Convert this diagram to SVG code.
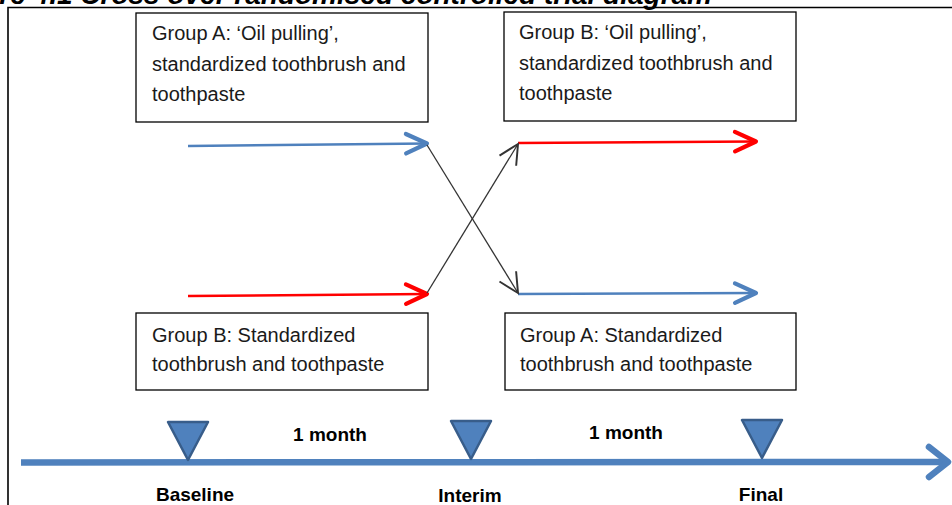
<svg xmlns="http://www.w3.org/2000/svg" width="952" height="505" viewBox="0 0 952 505">
<style>
.box{fill:#fff;stroke:#000;stroke-width:1.3}
.t{font-family:"Liberation Sans",Arial,sans-serif;font-size:20px;fill:#1a1a1a}
.lb{font-family:"Liberation Sans",Arial,sans-serif;font-size:19px;font-weight:bold;fill:#000;text-anchor:middle}
.title{font-family:"Liberation Sans",Arial,sans-serif;font-size:28px;font-weight:bold;font-style:italic;fill:#000;text-anchor:end}
.blue{stroke:#4F81BD;stroke-width:2.5;fill:none}
.red{stroke:#FF0000;stroke-width:2.5;fill:none}
.blk{stroke:#333;stroke-width:1.3;fill:none}
.tri{fill:#4F81BD;stroke:#385D8A;stroke-width:2.5;stroke-linejoin:round}
</style>
<defs>
<marker id="ab" markerUnits="userSpaceOnUse" markerWidth="30" markerHeight="30" viewBox="-16 -10 20 20" refX="0" refY="0" orient="auto" overflow="visible">
<path d="M-14,-6.5 L0,0 L-14,6.5" fill="none" stroke="#4F81BD" stroke-width="2.8" stroke-linecap="round" stroke-linejoin="round"/>
</marker>
<marker id="ar" markerUnits="userSpaceOnUse" markerWidth="30" markerHeight="30" viewBox="-16 -10 20 20" refX="0" refY="0" orient="auto" overflow="visible">
<path d="M-14,-6.5 L0,0 L-14,6.5" fill="none" stroke="#FF0000" stroke-width="2.8" stroke-linecap="round" stroke-linejoin="round"/>
</marker>
<marker id="ak" markerUnits="userSpaceOnUse" markerWidth="30" markerHeight="30" viewBox="-16 -10 20 20" refX="0" refY="0" orient="auto" overflow="visible">
<path d="M-13,-6.5 L0,0 L-13,6.5" fill="none" stroke="#333" stroke-width="1.3"/>
</marker>
</defs>
<rect x="0" y="0" width="952" height="505" fill="#fff"/>
<text class="title" x="712" y="4">Figure 4.1 Cross over randomised controlled trial diagram</text>
<path d="M8,505 L8,7.5 L952,7.5" fill="none" stroke="#000" stroke-width="1.6"/>

<g id="connectors">
<line class="blue" x1="188" y1="146" x2="427" y2="143.5" marker-end="url(#ab)"/>
<line class="red" x1="188" y1="296" x2="427" y2="294" marker-end="url(#ar)"/>
<line class="red" x1="518" y1="143" x2="756" y2="141.5" marker-end="url(#ar)"/>
<line class="blue" x1="518" y1="294" x2="756" y2="293" marker-end="url(#ab)"/>
<line class="blk" x1="427" y1="145" x2="518" y2="293" marker-end="url(#ak)"/>
<line class="blk" x1="427" y1="293" x2="518" y2="144" marker-end="url(#ak)"/>
<g id="timeline">
<line x1="21" y1="462.5" x2="947" y2="462" stroke="#4F81BD" stroke-width="6.5"/>
<polyline points="929,447 948,462 929,477" fill="none" stroke="#4F81BD" stroke-width="6.5" stroke-linecap="round" stroke-linejoin="round"/>
</g>
</g>

<g id="groupA-oil">
<rect class="box" x="136" y="13" width="292" height="109"/>
<text class="t" x="152" y="40">Group A: ‘Oil pulling’,</text>
<text class="t" x="152" y="71">standardized toothbrush and</text>
<text class="t" x="152" y="101">toothpaste</text>
</g>
<g id="groupB-oil">
<rect class="box" x="504" y="12" width="292" height="109"/>
<text class="t" x="519" y="39">Group B: ‘Oil pulling’,</text>
<text class="t" x="519" y="70">standardized toothbrush and</text>
<text class="t" x="519" y="100">toothpaste</text>
</g>
<g id="groupB-std">
<rect class="box" x="136" y="313" width="292" height="77"/>
<text class="t" x="152" y="342">Group B: Standardized</text>
<text class="t" x="152" y="371">toothbrush and toothpaste</text>
</g>
<g id="groupA-std">
<rect class="box" x="505" y="313" width="291" height="77"/>
<text class="t" x="520" y="342">Group A: Standardized</text>
<text class="t" x="520" y="371">toothbrush and toothpaste</text>
</g>

<g id="baseline">
<polygon class="tri" points="168,422 208,422 188,460"/>
<text class="lb" x="195" y="501">Baseline</text>
</g>
<g id="interim">
<polygon class="tri" points="451,421 491,421 471,459"/>
<text class="lb" x="470" y="502">Interim</text>
</g>
<g id="final">
<polygon class="tri" points="742,420 782,420 762,458"/>
<text class="lb" x="761" y="501">Final</text>
</g>
<g id="period1">
<text class="lb" x="330" y="441">1 month</text>
</g>
<g id="period2">
<text class="lb" x="626" y="439">1 month</text>
</g>
</svg>
